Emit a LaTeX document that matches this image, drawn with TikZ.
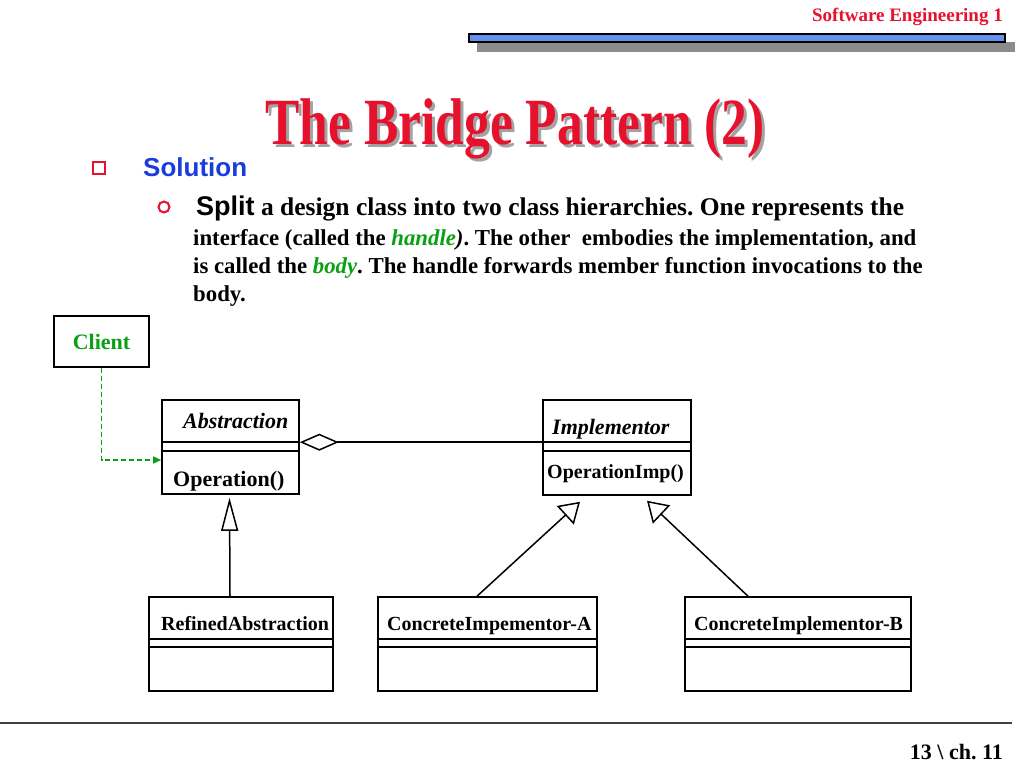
\documentclass[tikz,border=0pt]{standalone}
\usepackage{fontspec}
\setmainfont{Liberation Serif}
\newfontfamily\arialfont{Liberation Sans}
\usetikzlibrary{arrows.meta,calc}
\definecolor{titlered}{RGB}{230,18,45}
\definecolor{solblue}{RGB}{25,60,220}
\definecolor{umlgreen}{RGB}{10,160,20}
\definecolor{barblue}{RGB}{100,145,235}
\definecolor{shadowgray}{RGB}{140,140,140}
\newcommand{\fs}[1]{\fontsize{#1}{#1}\selectfont}
\begin{document}
\frenchspacing
\begin{tikzpicture}[x=1pt,y=-1pt,
  classbox/.style={draw, line width=1.6pt, rectangle, inner sep=0pt},
  classtext/.style={anchor=base west, inner sep=0pt, font=\fs{20}\bfseries},
  bodyline/.style={anchor=base west, inner sep=0pt, font=\fs{22.8}\bfseries},
  dep/.style={draw=umlgreen, line width=1.5pt, dash pattern=on 5pt off 3pt, -{Triangle[length=8pt,width=7pt]}},
  agg/.style={draw, line width=1.5pt, {Diamond[open,length=39pt,width=17pt]}-},
  inhA/.style={draw, line width=1.5pt, -{Triangle[open,length=33pt,width=17pt]}},
  inhB/.style={draw, line width=1.5pt, -{Triangle[open,length=20pt,width=25pt]}}
]
\useasboundingbox (0,0) rectangle (1024,768);
% header
\node[anchor=base east, inner sep=0pt, text=titlered, font=\fs{19}\bfseries] (hdr) at (1003,22) {Software Engineering 1};
\fill[shadowgray] (477,42) rectangle (1015,52);
\draw[fill=barblue, line width=1.4pt] (469,34) rectangle (1005,42);
% title
\node[anchor=base, inner sep=0pt, text=shadowgray!80, font=\fs{66}\bfseries] (titleshadow) at (518,147) {\scalebox{0.78}[1]{The Bridge Pattern (2)}};
\node[anchor=base, inner sep=0pt, text=titlered, font=\fs{66}\bfseries] (title) at (515,144) {\scalebox{0.78}[1]{The Bridge Pattern (2)}};
% bullets
\draw[titlered, line width=2.5pt] (93,162) rectangle (105,174);
\node[anchor=base west, inner sep=0pt, text=solblue, font=\arialfont\fs{26}\bfseries] (sol) at (143,176) {Solution};
\draw[titlered, line width=2pt] (164,207) circle (5.5);
\node[anchor=base west, inner sep=0pt, font=\fs{25.5}\bfseries] (l1) at (196,215) {{\arialfont\fs{27}Split} a design class into two class hierarchies. One represents the};
\node[bodyline] (l2) at (193,245) {interface (called the \textit{\textcolor{umlgreen}{handle})}. The other\ \ embodies the implementation, and};
\node[bodyline] (l3) at (193,273) {is called the \textit{\textcolor{umlgreen}{body}}. The handle forwards member function invocations to the};
\node[bodyline] (l4) at (193,301) {body.};
% classes
\node[classbox, minimum width=95pt, minimum height=51pt] (client) at (101.5,341.5) {};
\node[anchor=base, inner sep=0pt, text=umlgreen, font=\fs{22}\bfseries] (clientname) at (client.center |- 0,349) {Client};

\node[classbox, minimum width=137pt, minimum height=94pt] (abs) at (230.5,447) {};
\node[classtext, font=\fs{22}\bfseries\itshape] (absname) at (183,428) {Abstraction};
\node[classtext, font=\fs{22}\bfseries] (absop) at (173,486) {Operation()};

\node[classbox, minimum width=148pt, minimum height=95pt] (impl) at (617,447.5) {};
\node[classtext, font=\fs{22}\bfseries\itshape] (implname) at (552,434) {Implementor};
\node[classtext] (implop) at (547,478) {OperationImp()};

\node[classbox, minimum width=184pt, minimum height=94pt] (refined) at (241,644) {};
\node[classtext] (refname) at (161,630) {RefinedAbstraction};
\node[classbox, minimum width=219pt, minimum height=94pt] (concA) at (487.5,644) {};
\node[classtext] (concAname) at (387,630) {ConcreteImpementor-A};
\node[classbox, minimum width=226pt, minimum height=94pt] (concB) at (798,644) {};
\node[classtext] (concBname) at (694,630) {ConcreteImplementor-B};

% dividers
\foreach \n in {abs,impl}{
  \draw[line width=1.6pt] ([yshift=-43pt]\n.north west) -- ([yshift=-43pt]\n.north east);
  \draw[line width=1.6pt] ([yshift=-52pt]\n.north west) -- ([yshift=-52pt]\n.north east);
}
\foreach \n in {refined,concA,concB}{
  \draw[line width=1.6pt] ([yshift=-43pt]\n.north west) -- ([yshift=-43pt]\n.north east);
  \draw[line width=1.6pt] ([yshift=-51pt]\n.north west) -- ([yshift=-51pt]\n.north east);
}
% connectors
\draw[dep] (client.south) |- ([yshift=-13pt]abs.west);
\draw[agg] ([yshift=-43pt]abs.north east) -- ([yshift=-43pt]impl.north west);
\draw[inhA] ([xshift=-11pt]refined.north) -- ([xshift=-1pt,yshift=-3pt]abs.south);
\draw[inhB] ([xshift=-10.5pt]concA.north) -- ([xshift=-37pt,yshift=-6pt]impl.south);
\draw[inhB] ([xshift=-50pt]concB.north) -- ([xshift=30pt,yshift=-5pt]impl.south);
% footer
\draw[line width=2pt, black!75] (0,723) -- (1012,723);
\node[anchor=base east, inner sep=0pt, font=\fs{22}\bfseries] (footer) at (1003,759) {13 \textbackslash\ ch. 11};
\end{tikzpicture}
\end{document}
